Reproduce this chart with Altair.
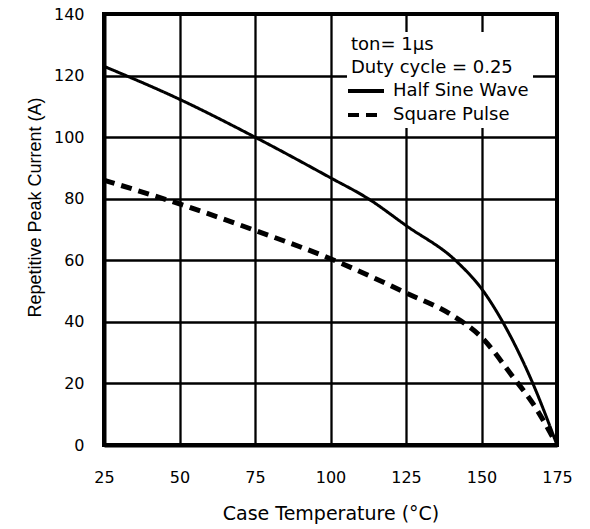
import altair as alt
import pandas as pd

# ---- data ----
temp_ticks = [25, 50, 75, 100, 125, 150, 175]
current_ticks = [0, 20, 40, 60, 80, 100, 120, 140]
series_names = ["Half Sine Wave", "Square Pulse"]
legend_title = ["ton= 1µs", "Duty cycle = 0.25"]

sine_temp = [25, 50, 75, 100, 112.5, 125, 142, 150, 157, 167, 175]
sine_current = [123, 112.3, 100, 86.8, 80, 71.3, 59.4, 50.8, 40, 20, 0]

square_temp = [25, 50, 75, 100, 125, 140, 150, 160.5, 167, 175]
square_current = [86, 78.3, 69.7, 60.5, 49.4, 42.3, 35, 22, 13.5, 0]

df = pd.concat([
    pd.DataFrame({"temp": sine_temp, "current": sine_current, "series": series_names[0]}),
    pd.DataFrame({"temp": square_temp, "current": square_current, "series": series_names[1]}),
], ignore_index=True)

H_FONT = "DejaVu Sans"
V_FONT = "Liberation Sans"

chart = alt.Chart(df).mark_line(interpolate="monotone", color="black").encode(
    x=alt.X("temp:Q",
            scale=alt.Scale(domain=[25, 175], nice=False, zero=False),
            axis=alt.Axis(values=temp_ticks, title="Case Temperature (°C)",
                          labelPadding=24, titlePadding=19,
                          labelFont=H_FONT, labelFontSize=16,
                          titleFont=H_FONT, titleFontSize=19)),
    y=alt.Y("current:Q",
            scale=alt.Scale(domain=[0, 140], nice=False),
            axis=alt.Axis(values=current_ticks, title="Repetitive Peak Current (A)",
                          labelPadding=20,
                          labelFont=H_FONT, labelFontSize=16,
                          titleFont=V_FONT, titleFontSize=18,
                          titleX=-69, titleY=193, titleAngle=270,
                          titleAlign="center", titleBaseline="middle")),
    strokeDash=alt.StrokeDash("series:N",
            scale=alt.Scale(domain=series_names, range=[[1, 0], [11, 7]]),
            legend=alt.Legend(title=legend_title, orient="none",
                              legendX=243, legendY=18)),
    strokeWidth=alt.condition(alt.datum.series == "Square Pulse", alt.value(5), alt.value(3)),
).properties(
    width=453, height=431,
    autosize=alt.AutoSizeParams(type="none"),
    padding={"left": 96, "top": 6, "right": 25, "bottom": 84},
).configure_view(
    stroke="black", strokeWidth=4
).configure_axis(
    grid=True, gridColor="black", gridWidth=2.3, gridOpacity=1,
    domain=True, domainColor="black", domainWidth=4,
    ticks=False, tickSize=0,
    labelColor="black", titleColor="black",
    titleFontWeight="normal", labelFlush=False,
).configure_legend(
    titleFont=H_FONT, titleFontSize=18, titleFontWeight="normal", titleColor="black",
    titleLineHeight=23, titlePadding=5, titleLimit=400,
    labelFont=H_FONT, labelFontSize=18, labelColor="black", labelLimit=400,
    symbolType="M-2,0H4", symbolSize=144, symbolStrokeColor="black",
    symbolStrokeWidth=4, labelOffset=24, rowPadding=6, padding=4,
    fillColor="white",
)

chart.save("out.html", embed_options={"renderer": "svg", "actions": False})
